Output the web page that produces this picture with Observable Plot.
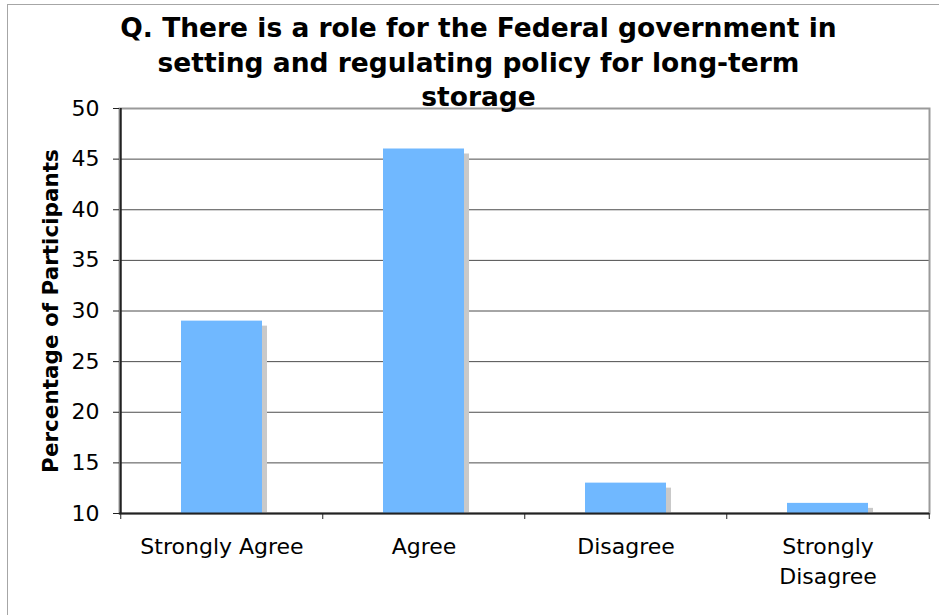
<!DOCTYPE html>
<html><head><meta charset="utf-8">
<script src="https://cdn.jsdelivr.net/npm/d3@7"></script>
<script src="https://cdn.jsdelivr.net/npm/@observablehq/plot@0.6"></script>
<style>
body{margin:0;background:#fff;overflow:hidden;}
#wrap{position:relative;width:939px;height:615px;overflow:hidden;}
#border{position:absolute;left:7px;top:4px;width:1000px;height:700px;border:1px solid #a6a6a6;pointer-events:none;}
</style></head><body>
<div id="wrap"><div id="chart"></div><div id="border"></div></div>
<script>
const titleLines = ["Q. There is a role for the Federal government in", "setting and regulating policy for long-term", "storage"];
const categories = ["Strongly Agree", "Agree", "Disagree", "Strongly Disagree"];
const categoryLabels = ["Strongly Agree", "Agree", "Disagree", "Strongly\nDisagree"];
const values = [29, 46, 13, 11];
const yTicks = [10, 15, 20, 25, 30, 35, 40, 45, 50];
const gridTicks = [15, 20, 25, 30, 35, 40, 45];
const yLabel = "Percentage of Participants";

const W = 939, H = 615, mL = 119, mR = 10, mT = 108, mB = 102;
const step = (W - mL - mR) / categories.length;
const data = categories.map((c, i) => ({category: c, value: values[i]}));
const font = "'DejaVu Sans', Verdana, sans-serif";

const chart = Plot.plot({
  width: W, height: H,
  marginLeft: mL, marginRight: mR, marginTop: mT, marginBottom: mB,
  style: {fontFamily: font, fontSize: "22px", background: "white", color: "black"},
  x: {type: "band", domain: categories, paddingInner: 0.6, paddingOuter: 0.3, label: null},
  y: {domain: [10, 50], label: null},
  marks: [
    Plot.ruleY(gridTicks, {stroke: "#4d4d4d", strokeWidth: 1}),
    Plot.frame({stroke: "#9a9a9a", strokeWidth: 2}),
    Plot.barY(data, {x: "category", y1: 10, y2: "value", fill: "#c9c9c9", dx: 5, dy: 5, insetBottom: 5}),
    Plot.barY(data, {x: "category", y1: 10, y2: "value", fill: "#70b8ff"}),
    Plot.ruleY([10], {stroke: "#222", strokeWidth: 2}),
    Plot.gridX([categories[0]], {dx: -step / 2, stroke: "#222", strokeOpacity: 1, strokeWidth: 2}),
    Plot.axisY({ticks: yTicks, tickSize: 6, tickPadding: 14, stroke: "#222", label: null}),
    Plot.axisX({tickSize: 6, dx: -step / 2, tickFormat: () => "", stroke: "#222", label: null}),
    Plot.axisX({ticks: [categories[categories.length - 1]], tickSize: 6, dx: step / 2, tickFormat: () => "", stroke: "#222", label: null}),
    Plot.axisX({tickSize: 0, tickPadding: 19, lineHeight: 1.36, tickFormat: d => categoryLabels[categories.indexOf(d)], label: null}),
    Plot.text([yLabel], {frameAnchor: "left", dx: -68, rotate: -90, textAnchor: "middle", fontSize: 21.5, fontWeight: "bold"}),
    Plot.text([titleLines.join("\n")], {frameAnchor: "top", dx: -46, dy: -95.5, textAnchor: "middle", lineAnchor: "top", lineHeight: 1.3, fontSize: 26.5, fontWeight: "bold"})
  ]
});
document.getElementById("chart").appendChild(chart);
</script>
</body></html>
